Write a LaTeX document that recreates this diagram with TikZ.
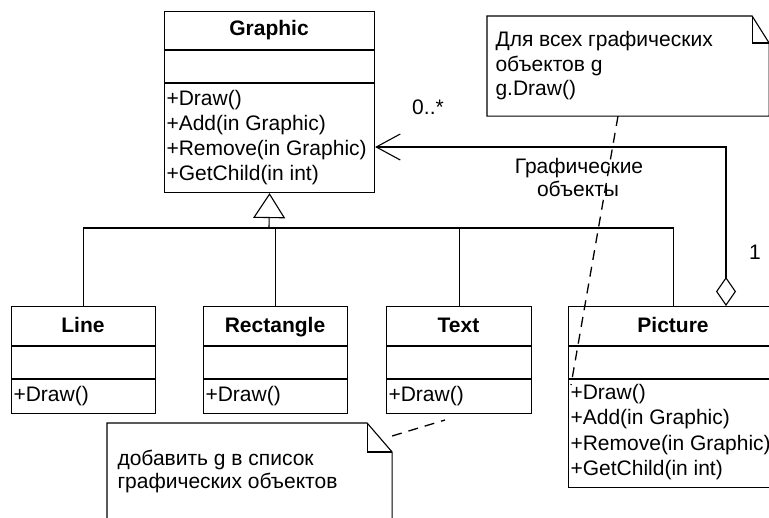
\documentclass[tikz,border=0pt]{standalone}
\usepackage{fontspec}
\setmainfont{Liberation Sans}
\usetikzlibrary{arrows.meta}
\begin{document}
\begin{tikzpicture}[x=1pt,y=-1pt, line width=1.1pt,
  box/.style={draw, inner sep=0pt, anchor=north west},
  ops/.style={inner sep=0pt, anchor=base west, font=\fontsize{21}{25}\selectfont},
  hdr/.style={inner sep=0pt, anchor=base, font=\fontsize{21}{25}\selectfont\bfseries},
  lbl/.style={inner sep=0pt, anchor=base, font=\fontsize{21}{25}\selectfont},
  dashline/.style={dash pattern=on 10pt off 7pt, line width=1.3pt},
]
\useasboundingbox (0,0) rectangle (769,518);

% ---- classes ----
\node[box, minimum width=210pt, minimum height=181pt] (graphic) at (164,11) {};
\node[box, minimum width=144pt, minimum height=107pt] (line) at (11,306) {};
\node[box, minimum width=144pt, minimum height=107pt] (rect) at (203,306) {};
\node[box, minimum width=145pt, minimum height=107pt] (text) at (386,306) {};
\node[box, minimum width=210pt, minimum height=181pt] (picture) at (568,306) {};

\draw ([yshift=-39pt]graphic.north west) -- ([yshift=-39pt]graphic.north east);
\draw ([yshift=-72pt]graphic.north west) -- ([yshift=-72pt]graphic.north east);
\foreach \c in {line,rect,text,picture}{
  \draw ([yshift=-40pt]\c.north west) -- ([yshift=-40pt]\c.north east);
  \draw ([yshift=-73pt]\c.north west) -- ([yshift=-73pt]\c.north east);
}

\node[hdr] (graphicname) at (269,36) {Graphic};
\node[hdr] (linename) at (83,333) {Line};
\node[hdr] (rectname) at (275,333) {Rectangle};
\node[hdr] (textname) at (458.5,333) {Text};
\node[hdr] (picturename) at (673,333) {Picture};

\node[ops] (g1) at (166,106) {+Draw()};
\node[ops] (g2) at (166,131) {+Add(in Graphic)};
\node[ops] (g3) at (166,156) {+Remove(in Graphic)};
\node[ops] (g4) at (166,181) {+GetChild(in int)};

\node[ops] (l1) at (13,402) {+Draw()};
\node[ops] (r1) at (205,402) {+Draw()};
\node[ops] (t1) at (388,402) {+Draw()};

\node[ops] (p1) at (570,400) {+Draw()};
\node[ops] (p2) at (570,425) {+Add(in Graphic)};
\node[ops] (p3) at (570,451) {+Remove(in Graphic)};
\node[ops] (p4) at (570,476) {+GetChild(in int)};

% ---- generalization ----
\coordinate (hub) at (269,228);
\draw[-{Triangle[open,length=25pt,width=32pt]}] (hub) -- (graphic.south);
\draw (line.north) |- (hub);
\draw (rect.north) |- (hub);
\draw (text.north) |- (hub);
\draw (picture.north) |- (hub);

% ---- aggregation ----
\coordinate (bend) at (726,147);
\draw[{Diamond[open,length=29pt,width=20pt]}-{Straight Barb[length=24pt,width=26pt]}]
  (picture.north -| bend) -- (bend) -- (graphic.east |- bend);
\node[lbl] (mult0) at (428,115) {0..*};
\node[lbl] (mult1) at (755,260) {1};
\node[lbl] (role1) at (579,174) {Графические};
\node[lbl] (role2) at (578,197) {объекты};

% ---- notes ----
\node[inner sep=0pt, anchor=north west, minimum width=281pt, minimum height=99pt] (note1) at (487,16) {};
\draw (note1.north west) -- ([xshift=-17pt]note1.north east) -- ([yshift=-27pt]note1.north east)
  -- (note1.south east) -- (note1.south west) -- cycle;
\draw ([xshift=-17pt]note1.north east) |- ([yshift=-27pt]note1.north east);
\node[ops] (n1a) at (495,47) {Для всех графических};
\node[ops] (n1b) at (495,72) {объектов g};
\node[ops] (n1c) at (495,96) {g.Draw()};

\node[inner sep=0pt, anchor=north west, minimum width=284pt, minimum height=110pt] (note2) at (107,423) {};
\draw (note2.north west) -- ([xshift=-25pt]note2.north east) -- ([yshift=-29pt]note2.north east)
  -- (note2.south east) -- (note2.south west) -- cycle;
\draw ([xshift=-25pt]note2.north east) |- ([yshift=-29pt]note2.north east);
\node[ops] (n2a) at (117,466) {добавить g в список};
\node[ops] (n2b) at (117,489) {графических объектов};

% ---- note links ----
\coordinate (picanchor) at (571,385);
\draw[dashline] ([xshift=131pt]note1.south west) -- (picanchor);
\coordinate (textanchor) at (445,420);
\draw[dashline] ([yshift=-13pt]note2.north east) -- (textanchor);
\end{tikzpicture}
\end{document}
